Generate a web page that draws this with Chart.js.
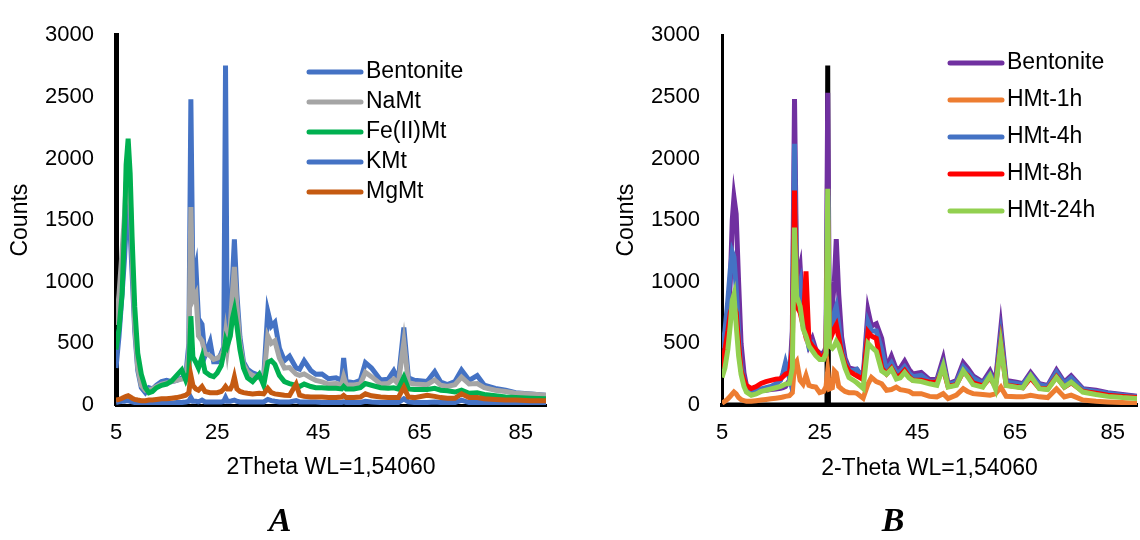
<!DOCTYPE html>
<html>
<head>
<meta charset="utf-8">
<script src="https://cdn.jsdelivr.net/npm/chart.js@4.4.1/dist/chart.umd.min.js"></script>
<style>
  html, body { margin: 0; padding: 0; background: #fff; }
  #wrap { position: relative; width: 1140px; height: 540px; }
  canvas { position: absolute; top: 0; }
  #chartA { left: 0; }
  #chartB { left: 570px; }
</style>
</head>
<body>
<div id="wrap">
  <canvas id="chartA" width="570" height="540"></canvas>
  <canvas id="chartB" width="570" height="540"></canvas>
</div>
<script>
// ---- shared tick labels ----
const xTicks = [5, 25, 45, 65, 85];

// ---- panel A: 2theta positions and counts ----
const thetaA = [
  5, 5.6, 6.2, 6.7, 7.0, 7.4, 7.8, 8.2, 8.7, 9.3,
  10.0, 10.8, 11.5, 12.2, 13.0, 14.0, 15.0, 16.0, 17.0, 18.0,
  18.8, 19.4, 19.8, 20.2, 20.8, 21.3, 22.0, 22.6, 23.6, 24.3,
  25.0, 25.8, 26.3, 26.65, 27.0, 27.6, 28.0, 28.4, 28.9, 29.5,
  30.2, 31.0, 32.0, 33.3, 34.2, 35.0, 35.7, 36.4, 37.3, 38.3,
  39.3, 40.6, 41.3, 42.2, 43.5, 44.5, 45.7, 47.0, 48.5, 49.6,
  50.0, 50.5, 52.0, 53.3, 54.3, 55.5, 57.3, 58.8, 59.9, 60.8,
  61.9, 62.8, 64.0, 66.5, 68.0, 69.2, 70.5, 72.0, 73.3, 74.8,
  76.4, 77.8, 80.0, 82.0, 84.0, 87.0, 90.0
];
const bentoniteA = [
  300, 560, 900, 1200, 1450, 1550, 1400, 1050, 600, 280,
  140, 100, 140, 130, 160, 190, 200, 190, 200, 220,
  240, 500, 2480, 1000, 1120, 700, 655, 400, 513, 350,
  350, 420, 470, 2755, 480, 700, 1000, 1343, 900, 550,
  350, 290, 260, 240, 230, 760, 640, 670, 460, 360,
  396, 300, 290, 358, 280, 250, 252, 213, 220, 200,
  382, 190, 180, 200, 343, 300, 203, 210, 278, 200,
  629, 220, 200, 190, 270, 185, 165, 190, 283, 200,
  239, 160, 135, 120, 100, 90, 78
];
const naMt = [
  650, 900, 1250, 1550, 1800, 1900, 1700, 1200, 650, 300,
  160, 120, 120, 130, 150, 170, 180, 190, 200, 210,
  220, 420, 1605, 850, 900, 560, 520, 420, 400, 370,
  380, 400, 450, 577, 450, 650, 900, 1120, 800, 500,
  330, 270, 240, 220, 210, 560, 500, 520, 380, 300,
  304, 250, 240, 252, 220, 200, 187, 170, 175, 165,
  230, 165, 163, 170, 265, 230, 170, 175, 210, 170,
  512, 180, 170, 165, 203, 160, 150, 165, 226, 170,
  174, 140, 120, 110, 95, 90, 80
];
const feMt = [
  450, 620, 900, 1470, 1950, 2160, 1880, 1340, 800, 420,
  250, 140, 100, 110, 140, 160, 170, 195, 240, 285,
  200, 260, 720, 390, 345, 300, 390, 270, 240, 230,
  260, 320, 420, 520, 480, 560, 700, 772, 640, 450,
  300, 220, 190, 250, 160, 345, 360, 330, 240, 190,
  174, 160, 150, 170, 150, 140, 140, 135, 135, 130,
  150, 130, 130, 140, 174, 160, 140, 135, 140, 130,
  226, 130, 125, 125, 135, 120, 115, 105, 120, 95,
  100, 85, 75, 65, 60, 55, 50
];
const kMt = [
  20, 25, 30, 30, 35, 35, 30, 25, 20, 15,
  15, 15, 15, 15, 15, 15, 15, 15, 20, 20,
  25, 30, 60, 30, 30, 25, 40, 25, 25, 25,
  25, 25, 30, 60, 30, 30, 35, 40, 30, 25,
  25, 25, 25, 25, 25, 45, 35, 30, 25, 25,
  25, 35, 25, 25, 25, 25, 20, 20, 20, 20,
  25, 20, 20, 20, 30, 25, 20, 20, 20, 20,
  50, 25, 20, 20, 25, 20, 20, 20, 40, 20,
  20, 20, 15, 15, 15, 15, 15
];
const mgMt = [
  40, 45, 55, 65, 70, 75, 65, 55, 45, 40,
  35, 35, 40, 40, 45, 50, 50, 55, 60, 70,
  80, 100, 240, 160, 130, 120, 150, 110, 100, 100,
  100, 110, 130, 150, 130, 130, 160, 226, 130, 110,
  100, 95, 90, 95, 90, 135, 100, 90, 85, 80,
  78, 170, 80, 70, 65, 65, 65, 60, 60, 65,
  78, 60, 60, 65, 91, 75, 65, 60, 60, 60,
  143, 65, 60, 78, 70, 60, 55, 55, 91, 60,
  60, 50, 45, 40, 40, 35, 35
];

// ---- panel B ----
const thetaB = [
  5, 5.6, 6.2, 6.7, 7.1, 7.45, 7.9, 8.4, 8.9, 9.5,
  10.0, 11.0, 12.0, 13.0, 14.0, 15.0, 16.0, 17.0, 17.5, 18.0,
  18.8, 19.4, 19.85, 20.3, 21.0, 21.6, 22.2, 22.8, 23.5, 24.2,
  25.0, 25.8, 26.3, 26.65, 27.0, 27.6, 28.0, 28.4, 28.9, 29.5,
  30.2, 31.0, 32.0, 32.6, 33.9, 34.9, 35.6, 36.6, 37.7, 38.7,
  39.7, 40.7, 41.5, 42.4, 43.3, 44.1, 45.8, 47.5, 49.0, 50.3,
  51.3, 53.0, 54.4, 55.3, 56.4, 58.4, 59.9, 61.0, 62.1, 63.2,
  65.3, 66.6, 68.2, 70.0, 71.7, 73.5, 75.1, 76.5, 78.9, 81.6,
  84.0, 87.0, 90.0
];
const bentoniteB = [
  330, 450, 650, 1000, 1500, 1685, 1550, 1000, 500, 260,
  160, 120, 110, 115, 120, 125, 130, 135, 140, 150,
  200, 600, 2483, 1000, 1124, 700, 600, 480, 540, 450,
  420, 420, 470, 2533, 600, 800, 1000, 1346, 900, 550,
  380, 300, 290, 290, 222, 766, 640, 660, 540, 303,
  396, 290, 300, 356, 290, 251, 264, 206, 206, 377,
  172, 198, 343, 300, 237, 185, 277, 185, 625, 198,
  185, 172, 264, 172, 158, 283, 185, 237, 132, 119,
  100, 85, 71
];
const hmt1h = [
  15, 30, 50, 70, 90, 105, 90, 60, 45, 35,
  30, 30, 35, 40, 45, 50, 55, 60, 65, 70,
  75, 100, 330, 355, 200, 170, 240, 160, 150, 145,
  100, 110, 150, 277, 130, 140, 277, 260, 150, 130,
  110, 100, 100, 95, 55, 170, 224, 190, 172, 119,
  125, 145, 125, 119, 110, 92, 92, 70, 66, 92,
  53, 80, 132, 110, 92, 85, 79, 90, 145, 70,
  66, 66, 79, 66, 60, 132, 66, 80, 40, 30,
  25, 20, 13
];
const hmt4h = [
  460, 600, 850, 1100, 1240, 1200, 950, 600, 320, 200,
  150, 120, 120, 130, 140, 150, 170, 200, 260, 343,
  220, 500, 2120, 900, 1000, 650, 580, 470, 500, 430,
  400, 380, 430, 1700, 560, 650, 750, 800, 650, 450,
  350, 280, 280, 290, 210, 673, 600, 600, 450, 280,
  340, 260, 270, 310, 260, 230, 240, 190, 195, 330,
  165, 185, 310, 270, 220, 175, 250, 175, 554, 185,
  175, 165, 245, 165, 150, 265, 175, 220, 125, 110,
  95, 80, 68
];
const hmt8h = [
  300, 450, 600, 750, 800, 800, 750, 500, 280, 200,
  158, 134, 150, 175, 190, 200, 210, 214, 230, 250,
  262, 450, 1740, 800, 750, 650, 1084, 520, 480, 450,
  400, 390, 440, 1500, 520, 580, 620, 650, 550, 420,
  330, 276, 250, 237, 207, 594, 560, 540, 300, 253,
  300, 230, 240, 280, 230, 200, 200, 185, 185, 300,
  150, 165, 270, 240, 180, 155, 220, 150, 500, 160,
  150, 140, 220, 135, 130, 230, 145, 180, 110, 95,
  80, 70, 60
];
const hmt24h = [
  224, 300, 450, 650, 850, 897, 650, 400, 250, 150,
  105, 79, 90, 110, 120, 130, 140, 150, 160, 170,
  175, 300, 1440, 880, 800, 620, 560, 480, 440, 400,
  370, 370, 420, 1755, 480, 460, 480, 515, 480, 400,
  300, 222, 198, 180, 135, 500, 470, 435, 277, 250,
  290, 211, 220, 264, 220, 198, 190, 172, 160, 316,
  145, 160, 277, 230, 165, 145, 237, 132, 488, 158,
  145, 140, 237, 132, 125, 224, 145, 185, 105, 85,
  70, 60, 53
];
// black trace seen under the 26.6 peak of panel B
const blackThetaB = [5, 26.5, 26.65, 26.8, 90];
const blackB = [0, 0, 2755, 0, 0];

const FONT = '"Liberation Sans", Arial, sans-serif';
Chart.defaults.font.family = FONT;
Chart.defaults.color = '#000';

const pairs = (xs, ys) => xs.map((x, i) => ({ x: x, y: ys[i] }));

const line = (label, xs, ys, color, order) => ({
  label: label,
  data: pairs(xs, ys),
  borderColor: color,
  backgroundColor: color,
  borderWidth: 5,
  pointRadius: 0,
  fill: false,
  tension: 0,
  order: order
});

// legend drawn inside the plot, plus the panel letter
const insideLegend = {
  id: 'insideLegend',
  afterDraw(chart, args, opts) {
    const ctx = chart.ctx;
    ctx.save();
    ctx.font = '23px ' + FONT;
    ctx.textBaseline = 'middle';
    ctx.textAlign = 'left';
    ctx.lineCap = 'round';
    chart.data.datasets.filter(ds => ds.label).forEach((ds, i) => {
      const y = opts.y + i * opts.gap;
      ctx.strokeStyle = ds.borderColor;
      ctx.lineWidth = 5;
      ctx.beginPath();
      ctx.moveTo(opts.x, y);
      ctx.lineTo(opts.x + 52, y);
      ctx.stroke();
      ctx.fillStyle = '#000';
      ctx.fillText(ds.label, opts.x + 57, y);
    });
    ctx.font = 'italic bold 34px "Liberation Serif", "Times New Roman", serif';
    ctx.textAlign = 'center';
    ctx.textBaseline = 'alphabetic';
    ctx.fillText(opts.panel, opts.panelX, 531);
    ctx.restore();
  }
};

function scales(o) {
  return {
    x: {
      type: 'linear',
      min: 5,
      max: 90,
      grid: { display: false, drawTicks: false },
      border: { display: true, color: '#000', width: o.xBorder },
      afterBuildTicks: s => { s.ticks = xTicks.map(v => ({ value: v })); },
      afterFit: s => { s.height = o.xHeight; },
      ticks: { padding: 15, font: { size: 22 } },
      title: {
        display: true,
        text: o.xTitle,
        font: { size: 23 },
        padding: { top: 0, bottom: o.xTitlePad }
      }
    },
    y: {
      min: 0,
      max: 3000,
      grid: { display: false, drawTicks: false },
      border: { display: true, color: '#000', width: o.yBorder },
      afterFit: s => { s.width = o.yWidth; },
      ticks: { stepSize: 500, padding: 22, font: { size: 22 }, callback: v => String(v) },
      title: {
        display: true,
        text: 'Counts',
        font: { size: 23 },
        padding: { top: o.yTitlePad, bottom: 0 }
      }
    }
  };
}

new Chart(document.getElementById('chartA').getContext('2d'), {
  type: 'line',
  data: {
    datasets: [
      line('Bentonite', thetaA, bentoniteA, '#4472C4', 5),
      line('NaMt', thetaA, naMt, '#A5A5A5', 4),
      line('Fe(II)Mt', thetaA, feMt, '#00B050', 3),
      line('KMt', thetaA, kMt, '#4472C4', 2),
      line('MgMt', thetaA, mgMt, '#C55A11', 1)
    ]
  },
  options: {
    responsive: false,
    animation: false,
    layout: { padding: { top: 19, right: 24, left: 0, bottom: 0 } },
    plugins: {
      legend: { display: false },
      tooltip: { enabled: false },
      insideLegend: { x: 309, y: 72, gap: 30, panel: 'A', panelX: 280 }
    },
    scales: scales({
      xTitle: '2Theta WL=1,54060', xHeight: 135, xTitlePad: 59, xBorder: 3,
      yWidth: 116, yTitlePad: 7, yBorder: 5
    })
  },
  plugins: [insideLegend]
});

new Chart(document.getElementById('chartB').getContext('2d'), {
  type: 'line',
  data: {
    datasets: [
      line('Bentonite', thetaB, bentoniteB, '#7030A0', 5),
      line('HMt-1h', thetaB, hmt1h, '#ED7D31', 4),
      line('HMt-4h', thetaB, hmt4h, '#4472C4', 3),
      line('HMt-8h', thetaB, hmt8h, '#FF0000', 2),
      line('HMt-24h', thetaB, hmt24h, '#92D050', 1),
      line('', blackThetaB, blackB, '#000000', 6)
    ]
  },
  options: {
    responsive: false,
    animation: false,
    layout: { padding: { top: 26, right: 2, left: 0, bottom: 0 } },
    plugins: {
      legend: { display: false },
      tooltip: { enabled: false },
      insideLegend: { x: 380, y: 63, gap: 37, panel: 'B', panelX: 323 }
    },
    scales: scales({
      xTitle: '2-Theta WL=1,54060', xHeight: 135, xTitlePad: 58, xBorder: 4,
      yWidth: 152, yTitlePad: 43, yBorder: 3
    })
  },
  plugins: [insideLegend]
});
</script>
</body>
</html>
